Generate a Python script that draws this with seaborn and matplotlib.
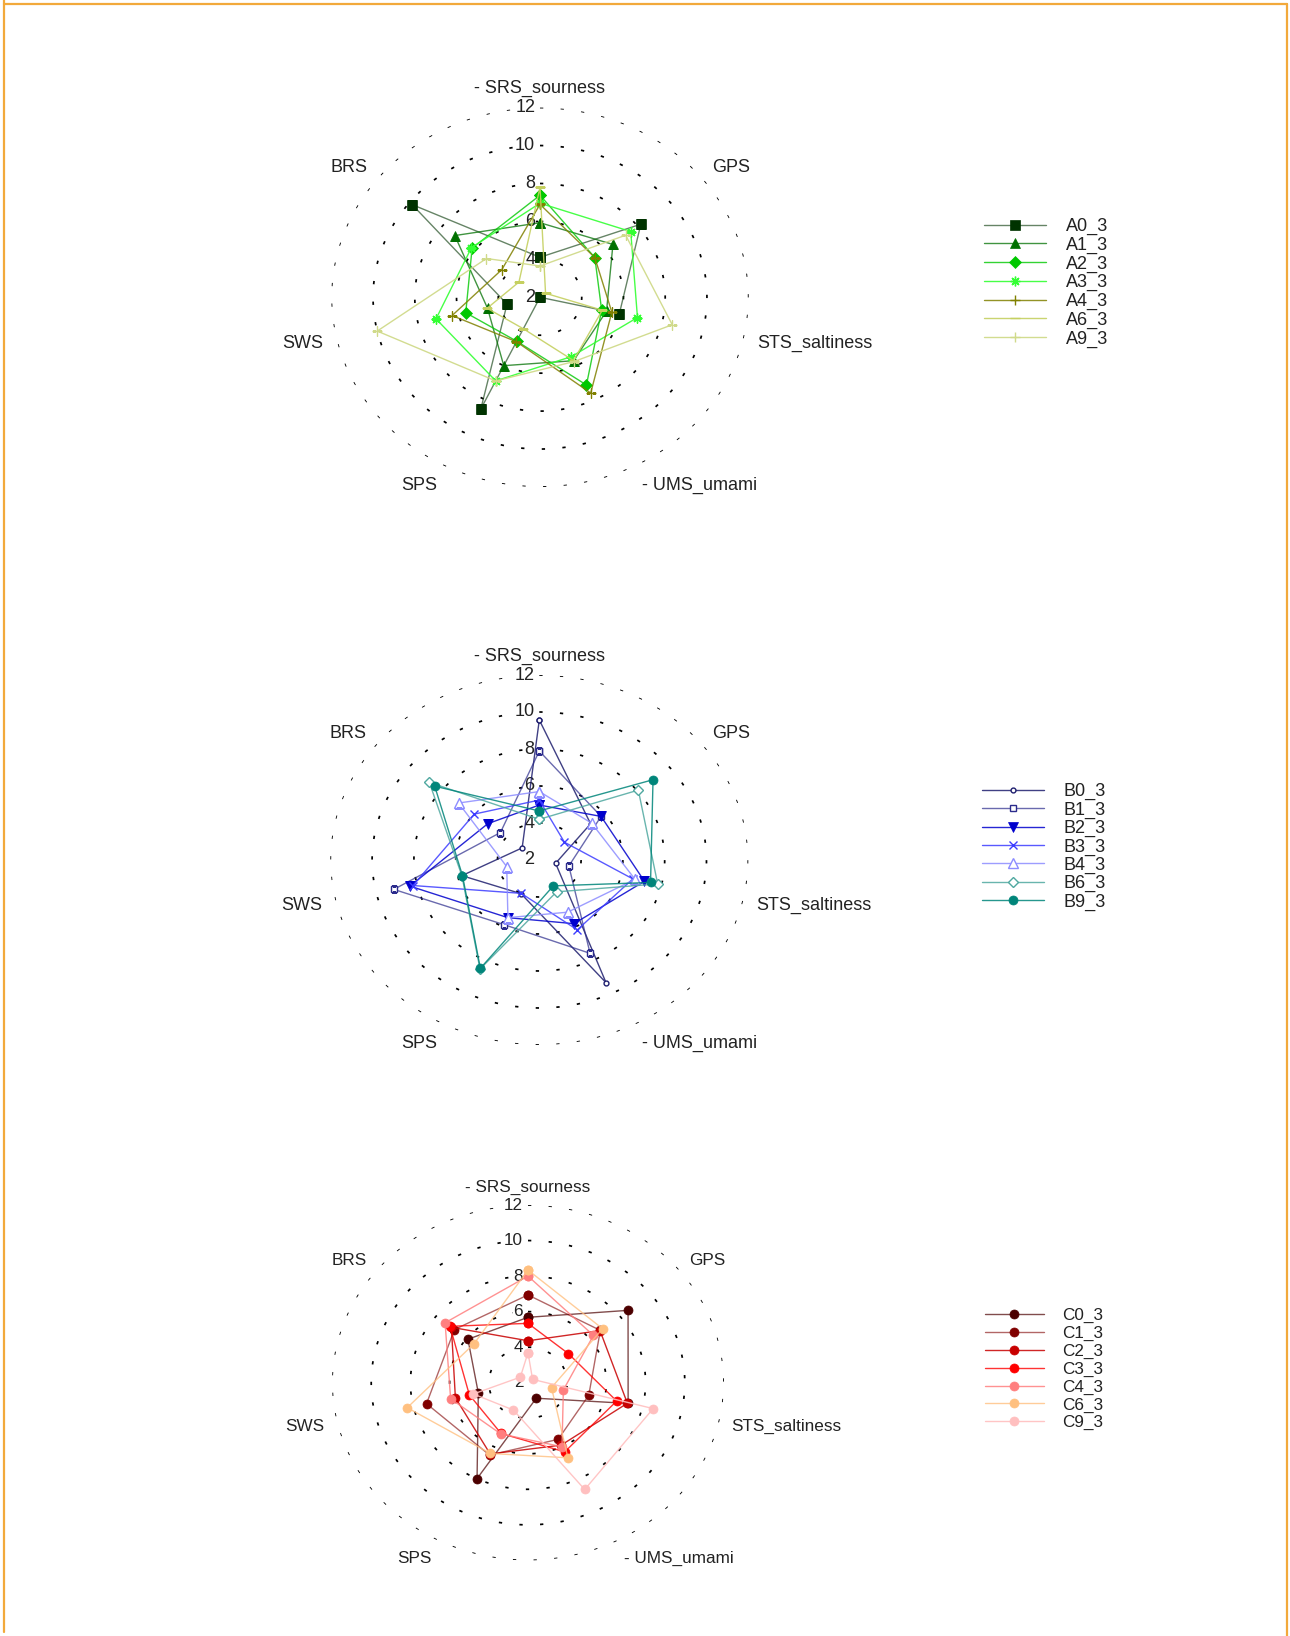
import numpy as np
import matplotlib
matplotlib.use("Agg")
import matplotlib.pyplot as plt
import seaborn as sns
from matplotlib.lines import Line2D
from matplotlib.colors import to_rgba

# ---------------- data ----------------
axis_names = ["- SRS_sourness", "GPS", "STS_saltiness", "- UMS_umami", "SPS", "SWS", "BRS"]
radial_ticks = [2, 4, 6, 8, 10, 12]

a_names = ["A0_3", "A1_3", "A2_3", "A3_3", "A4_3", "A6_3", "A9_3"]
A0 = [4.11, 8.18, 5.90, 2.00, 8.54, 3.62, 9.84]
A1 = [5.93, 6.47, 5.27, 5.71, 6.00, 4.58, 7.22]
A2 = [7.38, 5.36, 5.03, 7.13, 4.57, 5.65, 6.16]
A3 = [6.96, 7.56, 6.79, 5.47, 6.89, 7.11, 6.20]
A4 = [6.90, 5.36, 5.53, 7.60, 4.60, 6.32, 4.34]
A6 = [7.80, 2.34, 5.06, 5.70, 3.84, 4.60, 3.29]
A9 = [3.65, 7.25, 8.50, 5.76, 6.89, 10.00, 5.28]

b_names = ["B0_3", "B1_3", "B2_3", "B3_3", "B4_3", "B6_3", "B9_3"]
B0 = [9.57, 5.14, 2.80, 9.36, 4.02, 5.80, 3.05]
B1 = [7.89, 5.78, 3.45, 7.60, 5.88, 9.14, 4.38]
B2 = [4.97, 5.78, 7.16, 5.82, 5.46, 8.35, 5.15]
B3 = [5.24, 3.54, 6.59, 6.19, 4.00, 8.20, 5.98]
B4 = [5.70, 5.20, 6.70, 5.13, 5.46, 3.60, 6.94]
B6 = [4.20, 8.06, 7.81, 3.91, 8.54, 5.80, 8.73]
B9 = [4.65, 8.96, 7.46, 3.55, 8.50, 5.77, 8.40]

c_names = ["C0_3", "C1_3", "C2_3", "C3_3", "C4_3", "C6_3", "C9_3"]
C0 = [5.68, 8.53, 7.24, 2.97, 7.99, 4.60, 5.92]
C1 = [6.94, 6.72, 5.18, 5.54, 6.52, 7.31, 6.80]
C2 = [4.36, 6.70, 7.20, 5.90, 6.45, 5.80, 7.00]
C3 = [5.34, 4.63, 6.64, 6.32, 5.17, 5.07, 7.09]
C4 = [8.00, 6.27, 3.85, 6.00, 5.20, 6.05, 7.41]
C6 = [8.34, 6.87, 3.23, 6.69, 6.42, 8.32, 5.52]
C9 = [3.69, 2.30, 8.55, 8.67, 3.71, 4.86, 2.50]

# ---------------- styles ----------------
ASTER = (8, 2, 0)
a_styles = [
    dict(c="#003300", la=0.6, m="s", ms=6.5, open=False),
    dict(c="#007000", la=0.75, m="^", ms=7, open=False),
    dict(c="#00C800", la=0.8, m="D", ms=6, open=False),
    dict(c="#33FF33", la=0.9, m=ASTER, ms=7, open=False),
    dict(c="#808000", la=0.85, m="+", ms=7, open=False),
    dict(c="#C5D060", la=0.9, m="_", ms=7, open=False),
    dict(c="#D0DA8A", la=0.95, m="+", ms=7, open=False),
]
b_styles = [
    dict(c="#1E1E6E", la=0.85, m="o", ms=3.5, open=True),
    dict(c="#2B2B8C", la=0.7, m="s", ms=5, open=True),
    dict(c="#0000CD", la=0.85, m="v", ms=6.5, open=False),
    dict(c="#3C3CFF", la=0.85, m="x", ms=6, open=False),
    dict(c="#8C8CFF", la=0.85, m="^", ms=6.5, open=True),
    dict(c="#4FA8A0", la=0.85, m="D", ms=5.5, open=True),
    dict(c="#00857A", la=0.85, m="o", ms=6.5, open=False),
]
c_styles = [
    dict(c="#4C0000", la=0.7, m="o", ms=6.5, open=False),
    dict(c="#800000", la=0.6, m="o", ms=6.5, open=False),
    dict(c="#C80000", la=0.85, m="o", ms=6.5, open=False),
    dict(c="#FF0000", la=0.8, m="o", ms=6.5, open=False),
    dict(c="#FF7F7F", la=0.85, m="o", ms=6.5, open=False),
    dict(c="#FFC080", la=0.8, m="o", ms=6.5, open=False),
    dict(c="#FFBFBF", la=0.9, m="o", ms=6.5, open=False),
]

panels = [
    dict(series=[A0, A1, A2, A3, A4, A6, A9], names=a_names, styles=a_styles,
         cx=540, cy=297.3, rh=208.7, rv=189.7, fs=13, lx=984, ly=227, ls=0.085),
    dict(series=[B0, B1, B2, B3, B4, B6, B9], names=b_names, styles=b_styles,
         cx=539.3, cy=860, rh=209, rv=185, fs=13, lx=982, ly=792, ls=0.07),
    dict(series=[C0, C1, C2, C3, C4, C6, C9], names=c_names, styles=c_styles,
         cx=528, cy=1382.7, rh=196, rv=177.7, fs=12.3, lx=985, ly=1317, ls=0.16),
]

W, H = 1290, 1636
sns.set_style("white")
plt.rcParams["font.family"] = ["Liberation Sans", "DejaVu Sans"]
TXT = "#222222"

fig = plt.figure(figsize=(W / 100, H / 100), dpi=100)
fig.patch.set_facecolor("white")

n = len(axis_names)
angles = [2 * np.pi * i / n for i in range(n)]


def style_kw(st):
    line_col = to_rgba(st["c"], st["la"])
    line_markers = st["m"] in ("+", "x", "_", ASTER)
    kw = dict(color=line_col, marker=st["m"], markersize=st["ms"], linewidth=1.0)
    if line_markers:
        kw.update(markeredgecolor=st["c"], markeredgewidth=1.0, markerfacecolor=st["c"])
    elif st["open"]:
        kw.update(markeredgecolor=st["c"], markeredgewidth=1.0, markerfacecolor="white")
    else:
        kw.update(markeredgecolor=st["c"], markeredgewidth=0.5, markerfacecolor=st["c"])
    return kw


for p in panels:
    left = (p["cx"] - p["rh"]) / W
    bottom = 1 - (p["cy"] + p["rv"]) / H
    ax = fig.add_axes([left, bottom, 2 * p["rh"] / W, 2 * p["rv"] / H], projection="polar")
    ax.set_aspect("auto")
    ax.set_theta_zero_location("N")
    ax.set_theta_direction(-1)
    ax.grid(False)
    ax.set_xticks([])
    ax.set_yticks([])
    ax.spines["polar"].set_visible(False)
    ax.patch.set_alpha(0)

    # dotted grid circles
    tt = np.linspace(0, 2 * np.pi, 500)
    for r in radial_ticks[1:]:
        ax.plot(tt, np.full_like(tt, r), color="black", lw=1.25,
                linestyle=(0, (1.9, 10)), zorder=1)

    # radial tick labels
    for t in radial_ticks:
        ax.annotate(str(t), xy=(0, t), xytext=(-3.5, 0), textcoords="offset points",
                    ha="right", va="center", fontsize=p["fs"], color=TXT,
                    bbox=dict(fc="white", ec="none", pad=0.4), zorder=2,
                    annotation_clip=False)

    # category labels
    for th, lab in zip(angles, axis_names):
        s = np.sin(th)
        if abs(s) < 0.01:
            ha, dx = "center", 0
        elif s > 0:
            ha = "left"
            dx = -5 if abs(s) > 0.7 else 2
        else:
            ha = "right"
            dx = 5 if abs(s) > 0.7 else -2
        ax.annotate(lab, xy=(th, 13.0), xytext=(dx, 0), textcoords="offset points",
                    ha=ha, va="center", fontsize=p["fs"], color=TXT,
                    annotation_clip=False)

    # data polygons
    handles = []
    for vals, st, name in zip(p["series"], p["styles"], p["names"]):
        th = np.array(angles + [2 * np.pi])
        rr = np.array(list(vals) + [vals[0]])
        kw = style_kw(st)
        sns.lineplot(x=th, y=rr, sort=False, estimator=None, ax=ax, legend=False,
                     zorder=3, **kw)
        handles.append(Line2D([], [], **kw))

    ax.set_ylim(2, 12)
    ax.set_xlim(0, 2 * np.pi)
    ax.set_xlabel("")
    ax.set_ylabel("")

    fig.legend(handles, p["names"], loc="upper left",
               bbox_to_anchor=(p["lx"] / W, 1 - (p["ly"] - 9) / H),
               bbox_transform=fig.transFigure, frameon=False, fontsize=p["fs"],
               handlelength=3.43, handletextpad=1.1, labelspacing=p["ls"],
               borderpad=0, borderaxespad=0, numpoints=1, labelcolor=TXT)

# orange frame
frame_col = "#F2A93B"
for xs, ys in [([4, 4], [0, 1632]), ([4, 1287], [4, 4]), ([1287, 1287], [4, 1636])]:
    fig.add_artist(Line2D([x / W for x in xs], [1 - y / H for y in ys],
                          transform=fig.transFigure, color=frame_col, lw=1.6))

fig.savefig("out.png", dpi=100, facecolor="white")
